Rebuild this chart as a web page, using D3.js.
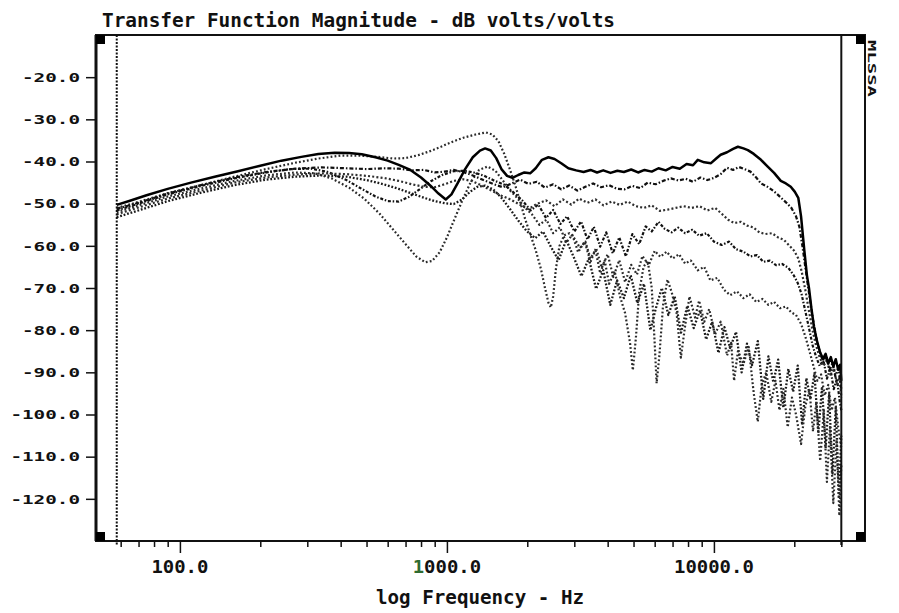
<!DOCTYPE html>
<html>
<head>
<meta charset="utf-8">
<script src="https://cdn.jsdelivr.net/npm/d3@7"></script>
<style>
  body { margin: 0; background: #fff; }
  svg { display: block; background: #fff; }
  text { font-family: "DejaVu Sans Mono", "Liberation Mono", monospace; font-weight: bold; fill: #111; }
</style>
</head>
<body>
<svg id="svg"></svg>
<script>
// ---- data: [frequency Hz, dB] ----
const solidTrace = [[58,-50.3],[65,-49.3],[75,-48.0],[90,-46.5],[110,-45.0],[135,-43.6],[165,-42.3],[200,-41.0],[240,-39.8],[285,-38.9],[330,-38.2],[380,-37.9],[430,-38.0],[480,-38.3],[540,-39.0],[600,-39.8],[660,-40.8],[730,-42.0],[800,-43.8],[870,-45.8],[930,-47.6],[990,-49.0],[1040,-47.8],[1100,-45.0],[1170,-41.8],[1250,-39.0],[1330,-37.4],[1390,-36.9],[1460,-37.4],[1530,-39.2],[1600,-41.8],[1680,-43.4],[1760,-43.9],[1850,-43.2],[1950,-42.6],[2050,-42.8],[2150,-41.6],[2270,-39.6],[2400,-39.0],[2530,-39.4],[2680,-40.4],[2850,-41.6],[3050,-42.1],[3250,-42.5],[3450,-42.0],[3650,-42.6],[3850,-42.1],[4100,-42.7],[4350,-42.2],[4600,-42.5],[4900,-41.9],[5200,-42.6],[5500,-42.0],[5850,-42.4],[6200,-41.6],[6600,-42.1],[7000,-41.3],[7450,-41.7],[7900,-40.6],[8350,-40.9],[8700,-39.6],[9200,-40.2],[9750,-40.4],[10200,-39.3],[10600,-38.4],[11200,-37.8],[11800,-37.0],[12300,-36.5],[12900,-36.9],[13400,-37.3],[14100,-38.2],[15000,-39.6],[15900,-41.2],[16800,-42.7],[17800,-44.6],[18600,-45.2],[19400,-46.0],[20100,-47.2],[20700,-48.6],[21200,-53.0],[21800,-61.0],[22300,-67.0],[22700,-70.0],[23200,-75.0],[23700,-79.2],[24300,-82.5],[25000,-85.3],[25600,-86.8],[26200,-85.6],[26800,-87.9],[27400,-86.4],[28000,-88.6],[28600,-86.9],[29200,-89.4],[29700,-88.2],[30000,-92.0]];

const peakTrace = [[58,-51.0],[70,-49.6],[90,-47.5],[120,-45.6],[160,-43.6],[210,-41.8],[270,-40.3],[330,-39.3],[400,-38.6],[470,-38.6],[550,-38.9],[630,-39.3],[700,-39.2],[780,-38.5],[860,-37.6],[950,-36.5],[1050,-35.3],[1160,-34.3],[1280,-33.6],[1400,-33.1],[1480,-33.6],[1560,-35.2],[1640,-38.2],[1720,-41.8],[1800,-45.5],[1880,-49.5],[1960,-53.5],[2050,-57.2],[2150,-61.0],[2250,-65.5],[2330,-70.0],[2400,-73.5],[2450,-74.6],[2500,-72.0],[2560,-65.5],[2640,-60.0],[2750,-57.5],[2880,-57.0],[3000,-58.2],[3150,-60.5],[3300,-59.0],[3450,-63.0],[3600,-61.0],[3750,-66.5],[3900,-63.5],[4050,-69.0],[4250,-66.0],[4450,-72.0],[4650,-76.0],[4850,-83.0],[4970,-89.5],[5100,-82.0],[5250,-71.0],[5450,-65.0],[5650,-63.5],[5850,-70.0],[6000,-83.0],[6100,-92.6],[6250,-86.0],[6450,-74.0],[6700,-68.0],[6950,-71.0],[7250,-76.0],[7520,-86.5],[7800,-79.0],[8100,-72.0],[8500,-77.0],[8800,-73.0],[9200,-78.0],[9600,-75.0],[10100,-81.0],[10600,-78.0],[11200,-86.0],[11600,-83.0],[11900,-92.0],[12300,-85.0],[12900,-88.0],[13500,-84.0],[14100,-95.0],[14600,-101.7],[15100,-93.0],[15700,-90.0],[16400,-97.0],[17000,-92.0],[17600,-99.0],[18200,-94.0],[18900,-103.0],[19600,-96.0],[20300,-100.0],[21200,-107.0],[22000,-98.0],[22800,-94.0],[23500,-104.0],[24200,-97.0],[25000,-111.0],[25800,-99.0],[26500,-116.0],[27200,-103.0],[28000,-121.0],[28800,-106.0],[29500,-124.0],[30000,-112.0]];

const notch800Trace = [[58,-52.0],[70,-50.4],[90,-48.3],[120,-46.4],[160,-44.6],[210,-43.3],[270,-42.6],[320,-42.8],[370,-44.0],[430,-46.2],[490,-48.8],[560,-52.4],[630,-56.2],[700,-59.6],[770,-62.6],[830,-63.9],[880,-63.6],[940,-61.5],[1000,-58.0],[1070,-53.5],[1150,-48.8],[1230,-44.8],[1320,-42.0],[1420,-41.2],[1520,-42.2],[1620,-44.5],[1720,-46.8],[1830,-48.6],[1950,-50.8],[2080,-52.5],[2220,-55.0],[2360,-53.8],[2500,-57.0],[2650,-55.6],[2800,-59.2],[2950,-57.4],[3100,-61.5],[3280,-59.0],[3450,-63.8],[3620,-60.5],[3800,-65.2],[4000,-62.0],[4200,-67.4],[4420,-63.4],[4650,-68.6],[4900,-64.5],[5150,-66.8],[5400,-62.4],[5700,-64.6],[6000,-61.2],[6300,-62.6],[6650,-61.4],[7000,-63.0],[7400,-62.0],[7800,-64.2],[8200,-63.5],[8700,-65.8],[9200,-65.0],[9700,-68.2],[10300,-67.6],[10900,-70.4],[11500,-71.7],[12200,-70.8],[12900,-72.4],[13600,-71.5],[14400,-73.3],[15200,-72.6],[16000,-74.0],[16800,-73.3],[17700,-74.8],[18600,-74.4],[19500,-75.8],[20300,-76.4],[21200,-78.5],[22000,-81.5],[22800,-85.0],[23600,-88.5],[24400,-92.0],[25200,-90.5],[26000,-95.5],[26800,-93.0],[27600,-99.0],[28400,-96.0],[29200,-103.0],[30000,-108.0]];

const notch600Trace = [[58,-51.6],[70,-50.0],[90,-47.8],[120,-45.8],[160,-44.0],[210,-42.6],[260,-41.8],[310,-41.7],[360,-42.5],[420,-44.4],[480,-46.5],[540,-48.3],[600,-49.4],[660,-49.5],[720,-48.4],[790,-46.6],[870,-44.7],[960,-43.2],[1060,-42.3],[1160,-42.2],[1260,-42.6],[1380,-43.4],[1500,-44.5],[1640,-45.5],[1780,-47.4],[1920,-49.3],[2060,-51.6],[2200,-50.2],[2350,-53.4],[2500,-51.5],[2660,-54.8],[2820,-53.0],[3000,-56.6],[3180,-54.2],[3360,-58.5],[3550,-55.5],[3750,-60.2],[3950,-56.8],[4180,-61.8],[4420,-58.0],[4680,-62.5],[4950,-57.2],[5250,-59.6],[5550,-55.4],[5850,-56.6],[6200,-54.3],[6550,-56.0],[6950,-56.8],[7350,-55.7],[7800,-57.0],[8300,-56.2],[8800,-57.6],[9400,-57.0],[10000,-59.0],[10700,-59.8],[11400,-59.0],[12100,-60.8],[12900,-61.4],[13700,-62.5],[14500,-62.2],[15300,-63.8],[16200,-63.5],[17100,-64.6],[18000,-64.3],[19000,-65.2],[19900,-67.0],[20600,-68.8],[21300,-71.5],[22000,-75.5],[22700,-79.5],[23400,-83.5],[24100,-86.2],[24900,-88.5],[25700,-87.0],[26500,-91.5],[27300,-89.0],[28100,-94.0],[28900,-91.5],[29600,-97.0],[30000,-99.0]];

const flatTrace = [[58,-51.2],[70,-49.8],[90,-47.6],[120,-45.6],[160,-43.8],[210,-42.5],[270,-41.7],[340,-41.4],[420,-41.6],[500,-41.8],[580,-41.6],[660,-41.7],[740,-42.1],[820,-42.0],[900,-42.6],[980,-42.4],[1060,-42.0],[1150,-42.5],[1250,-43.3],[1370,-44.4],[1500,-45.4],[1620,-46.1],[1750,-45.2],[1880,-44.3],[2020,-45.3],[2170,-44.8],[2330,-46.2],[2500,-45.4],[2680,-46.6],[2870,-45.7],[3080,-46.9],[3300,-46.0],[3530,-45.2],[3780,-46.1],[4050,-45.6],[4330,-46.5],[4630,-46.6],[4950,-45.8],[5300,-46.3],[5650,-45.0],[6050,-45.4],[6450,-44.6],[6900,-44.0],[7350,-44.5],[7850,-44.1],[8350,-44.8],[8900,-43.8],[9450,-44.4],[10000,-43.9],[10600,-43.0],[11200,-41.5],[11800,-42.0],[12400,-41.3],[13000,-41.8],[13700,-42.4],[14400,-43.8],[15000,-45.2],[15700,-45.8],[16400,-46.6],[17100,-47.5],[17900,-48.7],[18700,-49.8],[19500,-51.0],[20300,-53.0],[20900,-55.5],[21500,-60.5],[22100,-66.0],[22800,-72.0],[23500,-77.5],[24200,-82.0],[25000,-85.5],[25700,-87.5],[26400,-86.0],[27100,-89.5],[27800,-87.8],[28500,-91.0],[29200,-89.0],[30000,-94.0]];

const midTrace = [[58,-52.5],[70,-50.9],[90,-48.8],[120,-46.9],[160,-45.0],[210,-43.8],[270,-43.1],[340,-42.8],[420,-43.0],[500,-43.4],[580,-43.9],[660,-44.6],[740,-45.4],[820,-46.0],[900,-46.1],[980,-45.4],[1060,-44.6],[1150,-44.2],[1250,-44.7],[1360,-45.8],[1480,-47.0],[1600,-48.1],[1730,-49.0],[1870,-50.2],[2020,-51.3],[2180,-50.0],[2350,-49.2],[2530,-50.6],[2720,-49.0],[2920,-50.2],[3130,-48.8],[3360,-49.8],[3600,-49.0],[3860,-50.4],[4140,-49.5],[4440,-50.3],[4760,-49.5],[5100,-50.6],[5460,-51.0],[5850,-50.4],[6270,-51.7],[6720,-51.4],[7200,-51.0],[7700,-50.6],[8250,-51.0],[8830,-50.6],[9450,-51.6],[10100,-51.0],[10700,-52.4],[11300,-53.8],[11900,-54.6],[12600,-54.3],[13300,-55.2],[14000,-55.6],[14800,-56.8],[15600,-57.2],[16500,-57.0],[17400,-58.0],[18300,-58.6],[19200,-60.0],[20000,-61.2],[20700,-63.0],[21300,-66.0],[22000,-70.5],[22700,-75.5],[23400,-80.0],[24100,-83.5],[24900,-86.5],[25700,-88.5],[26500,-87.0],[27300,-90.5],[28100,-88.5],[28900,-93.0],[29600,-91.0],[30000,-96.0]];

const deepTrace = [[58,-53.2],[70,-51.6],[90,-49.4],[120,-47.4],[160,-45.6],[210,-44.3],[270,-43.6],[340,-43.3],[420,-43.6],[500,-44.4],[580,-45.4],[660,-46.5],[740,-47.6],[820,-48.6],[900,-49.4],[980,-49.9],[1060,-50.1],[1140,-49.0],[1220,-47.2],[1300,-46.0],[1390,-45.7],[1490,-46.6],[1600,-48.6],[1720,-51.2],[1850,-54.0],[1990,-56.5],[2140,-58.2],[2290,-56.6],[2450,-60.2],[2620,-63.4],[2800,-58.6],[2990,-62.8],[3190,-67.2],[3400,-63.0],[3620,-70.2],[3850,-65.8],[4090,-74.0],[4340,-68.2],[4600,-72.4],[4880,-67.0],[5170,-73.6],[5470,-69.0],[5780,-80.0],[6050,-75.0],[6380,-70.0],[6750,-76.4],[7130,-72.0],[7530,-80.6],[7950,-74.2],[8400,-79.5],[8870,-75.3],[9350,-82.2],[9850,-78.0],[10400,-85.4],[10950,-79.3],[11500,-84.2],[12100,-80.4],[12700,-90.0],[13300,-83.2],[13900,-88.3],[14600,-82.6],[15300,-96.3],[16000,-86.2],[16700,-92.4],[17400,-87.0],[18200,-98.4],[19000,-89.2],[19800,-94.6],[20600,-88.4],[21400,-102.5],[22200,-91.4],[23000,-96.3],[23800,-90.2],[24600,-104.5],[25400,-93.4],[26200,-108.0],[27000,-95.2],[27800,-114.0],[28600,-98.3],[29400,-119.5],[30000,-105.0]];

const yTicks = [-20, -30, -40, -50, -60, -70, -80, -90, -100, -110, -120];
const xTicks = [60, 70, 80, 90, 100, 200, 300, 400, 500, 600, 700, 800, 900, 1000,
                2000, 3000, 4000, 5000, 6000, 7000, 8000, 9000, 10000, 20000, 30000];
const xMajor = [100, 1000, 10000];
const xLabels = ["100.0", "1000.0", "10000.0"];
const markerLow = 58, markerHigh = 30000;
const titleText = "Transfer Function Magnitude - dB volts/volts";
const xTitleText = "log Frequency - Hz";
const sideText = "MLSSA";

// ---- drawing ----
let width = 899, height = 613;
let pl = 96, pr = 865, pt = 35, pb = 541;

let svg = d3.select("#svg").attr("width", width).attr("height", height);

let x = d3.scaleLog().domain([48.5, 36800]).range([pl, pr]);
let y = d3.scaleLinear().domain([-130, -10]).range([pb, pt]);

svg.append("defs").append("clipPath").attr("id", "plot")
  .append("rect").attr("x", pl).attr("y", pt)
  .attr("width", pr - pl).attr("height", pb - pt);

// title
svg.append("text").attr("x", 102).attr("y", 27)
  .attr("font-size", 19).attr("textLength", 513).attr("lengthAdjust", "spacingAndGlyphs")
  .text(titleText);

// y axis
let yAxis = svg.append("g").attr("transform", `translate(${pl},0)`)
  .call(d3.axisLeft(y).tickValues(yTicks).tickFormat(d => d.toFixed(1)).tickSize(10).tickPadding(6));
yAxis.attr("font-family", null);
yAxis.select(".domain").remove();
yAxis.selectAll("line").attr("stroke", "#111").attr("stroke-width", 1.5);
yAxis.selectAll("text")
  .attr("font-size", 13)
  .attr("textLength", function() { return this.textContent.length * 11.6; })
  .attr("lengthAdjust", "spacingAndGlyphs");

// x axis ticks
let xAxis = svg.append("g").attr("transform", `translate(0,${pb})`)
  .call(d3.axisBottom(x).tickValues(xTicks).tickFormat("").tickSize(6));
xAxis.select(".domain").remove();
xAxis.selectAll("line").attr("stroke", "#111").attr("stroke-width", 1.5)
  .attr("y2", d => xMajor.includes(d) ? 12 : 6);

let xl = svg.append("g");
xMajor.forEach((v, i) => {
  let t = xl.append("text").attr("x", x(v)).attr("y", 573)
    .attr("text-anchor", "middle").attr("font-size", 17)
    .attr("textLength", xLabels[i].length * 11.4).attr("lengthAdjust", "spacingAndGlyphs");
  if (i == 1) {
    // the scan shows a greenish leading digit here
    t.append("tspan").style("fill", "#2f6b2f").text(xLabels[i][0]);
    t.append("tspan").text(xLabels[i].slice(1));
  } else {
    t.text(xLabels[i]);
  }
});

svg.append("text").attr("x", 480).attr("y", 604).attr("text-anchor", "middle")
  .attr("font-size", 20).attr("textLength", 208).attr("lengthAdjust", "spacingAndGlyphs")
  .text(xTitleText);

// side label
svg.append("text").attr("transform", "translate(868,40) rotate(90)")
  .attr("font-size", 11).attr("textLength", 57).attr("lengthAdjust", "spacingAndGlyphs")
  .text(sideText);

// traces
let lineGen = d3.line().x(d => x(d[0])).y(d => y(d[1]));
let traces = [
  {data: deepTrace,     dash: "1.8,1.8",   width: 2.3, color: "#1a1a1a"},
  {data: peakTrace,     dash: "1.8,2.2",   width: 2.2, color: "#2a2a2a"},
  {data: notch800Trace, dash: "1.8,2.2",   width: 2.2, color: "#2a2a2a"},
  {data: notch600Trace, dash: "3,1.8,1.5,1.8", width: 2.2, color: "#111"},
  {data: midTrace,      dash: "2,2.2",     width: 2.2, color: "#2e2e2e"},
  {data: flatTrace,     dash: "4,2,1.5,2", width: 2.2, color: "#111"},
  {data: solidTrace,    dash: null,        width: 2.5, color: "#000"}
];

let plot = svg.append("g").attr("clip-path", "url(#plot)");
plot.selectAll("path.trace")
  .data(traces)
  .join("path")
  .attr("class", "trace")
  .attr("d", d => lineGen(d.data))
  .attr("fill", "none")
  .attr("stroke", d => d.color)
  .attr("stroke-width", d => d.width)
  .attr("stroke-dasharray", d => d.dash)
  .attr("stroke-linejoin", "round");

// marker lines
svg.append("line").attr("x1", x(markerLow)).attr("x2", x(markerLow))
  .attr("y1", pt).attr("y2", pb + 4)
  .attr("stroke", "#111").attr("stroke-width", 2).attr("stroke-dasharray", "2,1.5");
svg.append("line").attr("x1", x(markerHigh)).attr("x2", x(markerHigh))
  .attr("y1", pt).attr("y2", pb + 4)
  .attr("stroke", "#111").attr("stroke-width", 2);

// frame + corner blocks
svg.append("rect").attr("x", pl).attr("y", pt)
  .attr("width", pr - pl).attr("height", pb - pt)
  .attr("fill", "none").attr("stroke", "#111").attr("stroke-width", 2);
svg.append("line").attr("x1", pl).attr("x2", pl).attr("y1", pt).attr("y2", pb)
  .attr("stroke", "#111").attr("stroke-width", 3);

let corners = [[pl, pt], [pl, pb - 9], [pr - 9, pt], [pr - 9, pb - 9]];
svg.selectAll("rect.corner").data(corners).join("rect")
  .attr("class", "corner")
  .attr("x", d => d[0]).attr("y", d => d[1])
  .attr("width", 9).attr("height", 9).attr("fill", "#000");
</script>
</body>
</html>
